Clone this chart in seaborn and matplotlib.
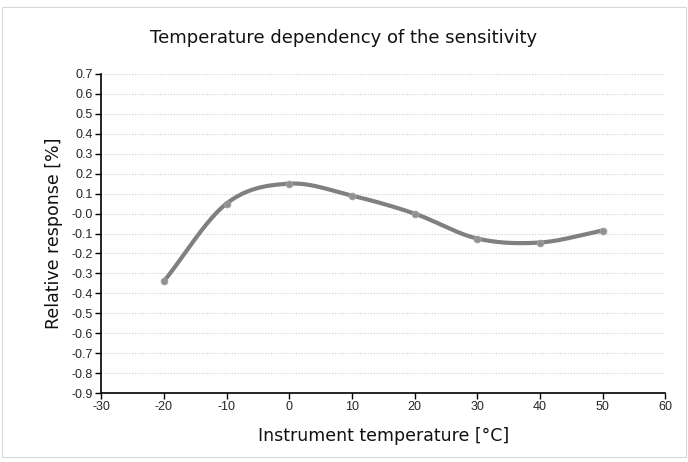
import numpy as np
import pandas as pd
import matplotlib
matplotlib.use("Agg")
import matplotlib.pyplot as plt
import seaborn as sns

temperature = [-20, -10, 0, 10, 20, 30, 40, 50]
response = [-0.34, 0.05, 0.15, 0.09, 0.0, -0.125, -0.145, -0.085]
x_ticks = list(range(-30, 61, 10))
y_ticks = [round(v, 1) for v in np.arange(-0.9, 0.71, 0.1)]

sns.set_theme(style="white")
plt.rcParams['font.family'] = ['DejaVu Sans']


def catmull_rom(xs, ys, n=40):
    xs = np.asarray(xs, float); ys = np.asarray(ys, float)
    px = np.concatenate([[2 * xs[0] - xs[1]], xs, [2 * xs[-1] - xs[-2]]])
    py = np.concatenate([[2 * ys[0] - ys[1]], ys, [2 * ys[-1] - ys[-2]]])
    outx, outy = [], []
    for i in range(1, len(px) - 2):
        t = np.linspace(0, 1, n, endpoint=False)
        for arr, out in ((px, outx), (py, outy)):
            p0, p1, p2, p3 = arr[i - 1], arr[i], arr[i + 1], arr[i + 2]
            out.extend(0.5 * ((2 * p1) + (-p0 + p2) * t + (2 * p0 - 5 * p1 + 4 * p2 - p3) * t ** 2
                              + (-p0 + 3 * p1 - 3 * p2 + p3) * t ** 3))
    outx.append(xs[-1]); outy.append(ys[-1])
    return np.array(outx), np.array(outy)


sx, sy = catmull_rom(temperature, response)
smooth = pd.DataFrame({"x": sx, "y": sy})
pts = pd.DataFrame({"x": temperature, "y": response})

fig = plt.figure(figsize=(6.88, 4.62), dpi=100)
ax = fig.add_axes([0.147, 0.149, 0.82, 0.691])

for yv in y_ticks:
    ax.axhline(yv, color="#cfcfcf", lw=0.8, ls=(0, (1, 1.5)), zorder=0)

sns.lineplot(data=smooth, x="x", y="y", sort=False, estimator=None, color="#808080", lw=3.0, ax=ax)
sns.scatterplot(data=pts, x="x", y="y", color="#909090", s=22, edgecolor="#a0a0a0", linewidth=0.8, ax=ax, zorder=3)

ax.set_xlim(-30, 60)
ax.set_ylim(-0.9, 0.7)
ax.set_xticks(x_ticks)
ax.set_yticks(y_ticks)
ax.set_xticklabels([str(v) for v in x_ticks], fontfamily="Liberation Sans", fontsize=9)
ax.set_yticklabels([f"{v:.1f}" for v in y_ticks], fontfamily="Liberation Sans", fontsize=9)
ax.tick_params(axis="both", direction="out", length=4, width=1, color="black", pad=2, bottom=True, left=True)
for s in ["top", "right"]:
    ax.spines[s].set_visible(False)
for s in ["left", "bottom"]:
    ax.spines[s].set_color("black")
    ax.spines[s].set_linewidth(1.2)

ax.set_xlabel("Instrument temperature [°C]", fontsize=12.5, labelpad=10, color="#111111")
ax.set_ylabel("Relative response [%]", fontsize=12.5, labelpad=6, color="#111111")
fig.text(0.5, 0.918, "Temperature dependency of the sensitivity", ha="center", va="center", fontsize=13, color="#111111")

fig.patches.append(plt.Rectangle((0.003, 0.01), 0.994, 0.975, transform=fig.transFigure,
                                 fill=False, edgecolor="#d8d8d8", lw=0.8))

fig.savefig("out.png", dpi=100)
